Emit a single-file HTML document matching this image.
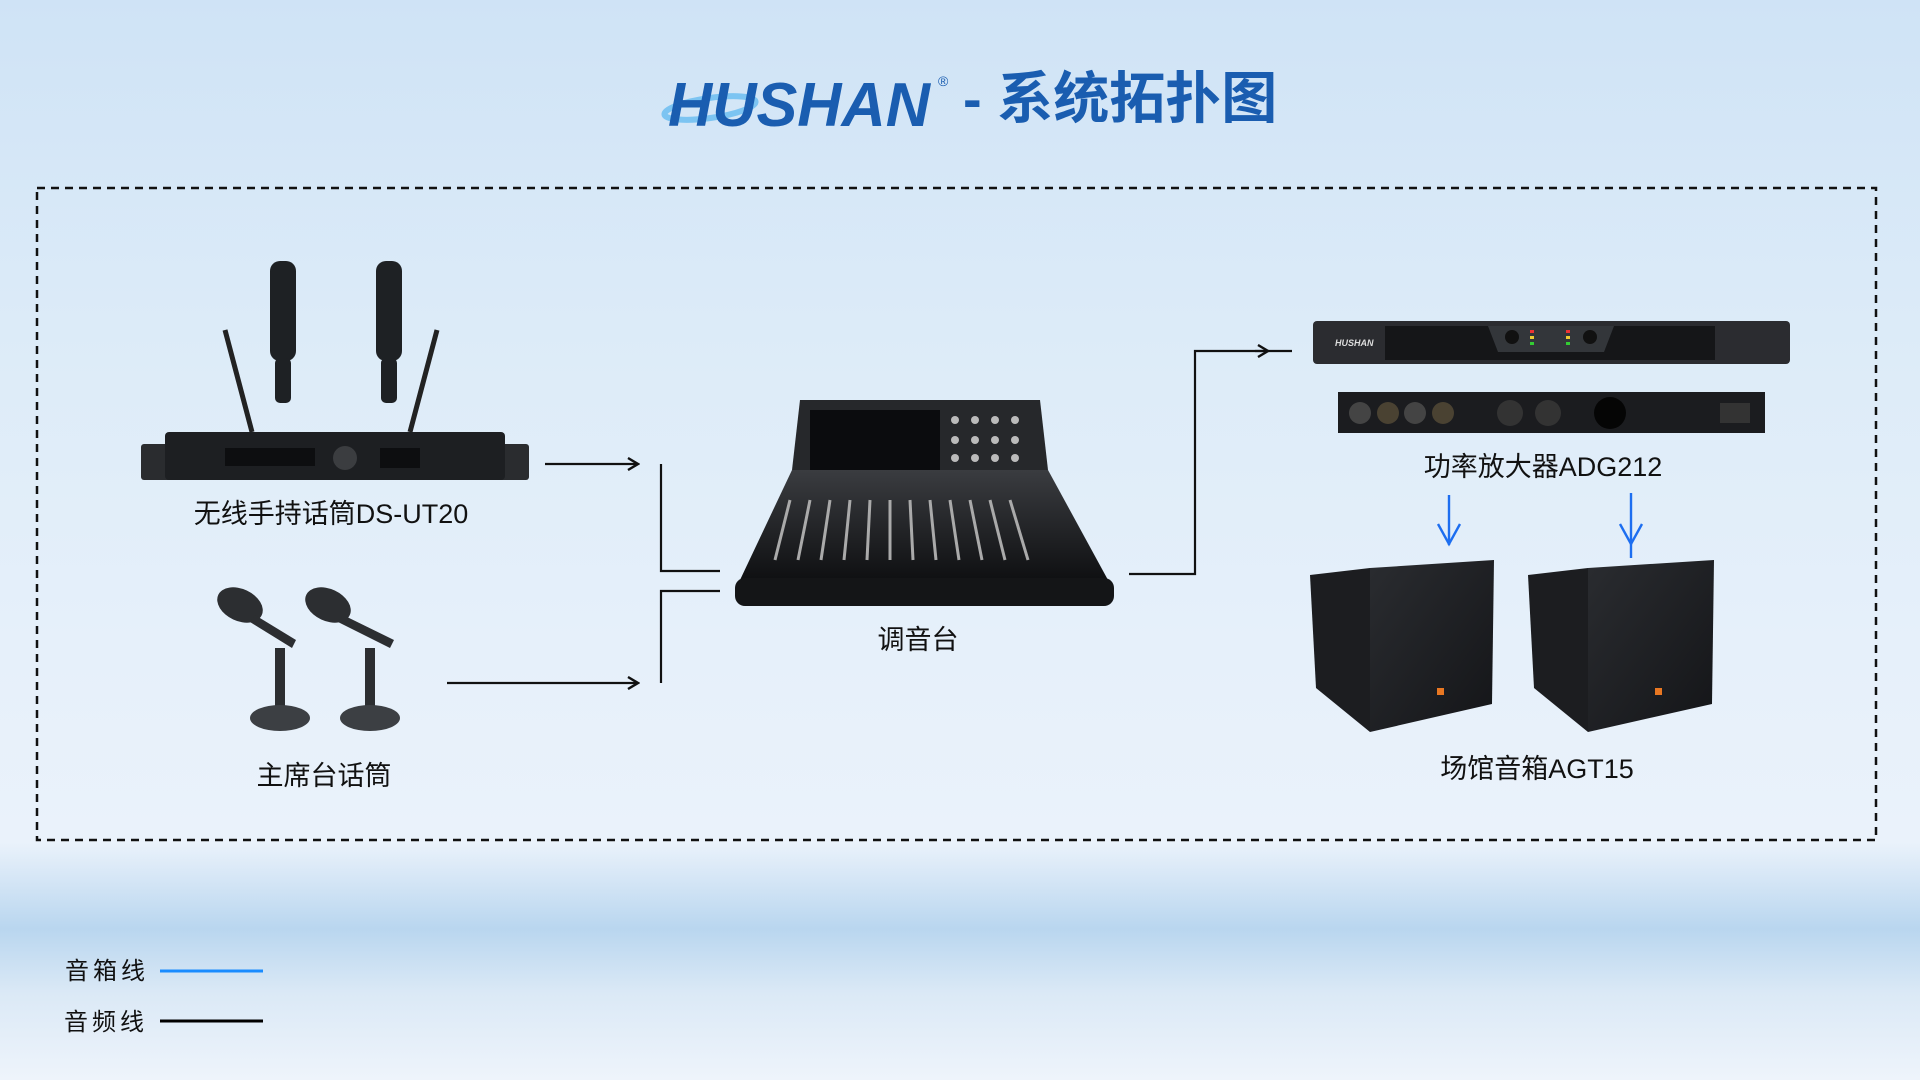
<!DOCTYPE html>
<html><head><meta charset="utf-8"><style>
html,body{margin:0;padding:0;width:1920px;height:1080px;overflow:hidden}
body{background:linear-gradient(180deg,#cfe3f6 0%,#dcebf8 30%,#e6f0fa 60%,#eaf2fb 78%,#b9d6ef 86%,#dbe9f6 92%,#eef4fb 100%)}
svg{position:absolute;left:0;top:0}
text{font-family:"Liberation Sans","Noto Sans CJK SC",sans-serif}
</style></head><body>
<svg width="1920" height="1080" viewBox="0 0 1920 1080" xmlns="http://www.w3.org/2000/svg">
<defs>
<marker id="ab" markerWidth="14" markerHeight="14" refX="12" refY="7" orient="auto" markerUnits="userSpaceOnUse"><path d="M2,1 L12,7 L2,13" fill="none" stroke="#111" stroke-width="2.4"/></marker>
<marker id="au" markerWidth="20" markerHeight="20" refX="10" refY="18" orient="auto-start-reverse" markerUnits="userSpaceOnUse"></marker>
<linearGradient id="spk" x1="0" y1="0" x2="1" y2="1"><stop offset="0" stop-color="#2a2c30"/><stop offset="1" stop-color="#141518"/></linearGradient>
<linearGradient id="mix" x1="0" y1="0" x2="0" y2="1"><stop offset="0" stop-color="#3a3c40"/><stop offset="1" stop-color="#0f1012"/></linearGradient>
</defs>
<!-- title -->
<ellipse cx="710" cy="108" rx="46" ry="10" fill="none" stroke="#7cc4f2" stroke-width="6" transform="rotate(-8 710 108)"/>
<text x="668" y="126" font-size="62" font-weight="bold" font-style="italic" fill="#1a5db0" textLength="262" lengthAdjust="spacingAndGlyphs">HUSHAN</text>
<text x="938" y="86" font-size="14" fill="#1a5db0">®</text>
<text x="963" y="118" font-size="56" font-weight="bold" fill="#1a5db0">- 系统拓扑图</text>
<!-- dashed border -->
<rect x="37" y="188" width="1839" height="652" fill="none" stroke="#111" stroke-width="2.5" stroke-dasharray="8,6"/>
<!-- wireless receiver -->
<line x1="225" y1="330" x2="252" y2="432" stroke="#222" stroke-width="5"/>
<line x1="437" y1="330" x2="410" y2="432" stroke="#222" stroke-width="5"/>
<rect x="270" y="261" width="26" height="100" rx="10" fill="#1e2124"/><rect x="275" y="358" width="16" height="45" rx="5" fill="#1e2124"/>
<rect x="376" y="261" width="26" height="100" rx="10" fill="#1e2124"/><rect x="381" y="358" width="16" height="45" rx="5" fill="#1e2124"/>
<rect x="141" y="444" width="388" height="36" rx="3" fill="#2a2c2f"/>
<rect x="165" y="432" width="340" height="48" rx="4" fill="#1d1f22"/>
<rect x="225" y="448" width="90" height="18" fill="#0d0e10"/><circle cx="345" cy="458" r="12" fill="#3b3d40"/>
<rect x="380" y="448" width="40" height="20" fill="#0d0e10"/>
<text x="331" y="523" font-size="27" fill="#111" text-anchor="middle">无线手持话筒DS-UT20</text>
<!-- gooseneck mics -->
<g fill="#2c2e31">
<ellipse cx="240" cy="605" rx="24" ry="16" transform="rotate(25 240 605)"/>
<path d="M255 615 L296 640 L292 648 L250 622Z"/>
<rect x="275" y="648" width="10" height="60"/>
<ellipse cx="280" cy="718" rx="30" ry="13" fill="#3c3f43"/>
<ellipse cx="328" cy="605" rx="24" ry="16" transform="rotate(25 328 605)"/>
<path d="M343 615 L394 640 L390 648 L338 622Z"/>
<rect x="365" y="648" width="10" height="60"/>
<ellipse cx="370" cy="718" rx="30" ry="13" fill="#3c3f43"/>
</g>
<text x="324" y="785" font-size="27" fill="#111" text-anchor="middle">主席台话筒</text>
<!-- mixer -->
<path d="M800 400 L1040 400 L1048 470 L792 470Z" fill="#26282b"/>
<rect x="810" y="410" width="130" height="60" fill="#0b0c0e"/>
<g fill="#bbb"><circle cx="955" cy="420" r="4"/><circle cx="975" cy="420" r="4"/><circle cx="995" cy="420" r="4"/><circle cx="1015" cy="420" r="4"/><circle cx="955" cy="440" r="4"/><circle cx="975" cy="440" r="4"/><circle cx="995" cy="440" r="4"/><circle cx="1015" cy="440" r="4"/><circle cx="955" cy="458" r="4"/><circle cx="975" cy="458" r="4"/><circle cx="995" cy="458" r="4"/><circle cx="1015" cy="458" r="4"/></g>
<path d="M792 470 L1048 470 L1108 580 L740 580Z" fill="url(#mix)"/>
<g stroke="#aaa" stroke-width="3">
<line x1="790" y1="500" x2="775" y2="560"/><line x1="810" y1="500" x2="798" y2="560"/><line x1="830" y1="500" x2="821" y2="560"/><line x1="850" y1="500" x2="844" y2="560"/><line x1="870" y1="500" x2="867" y2="560"/><line x1="890" y1="500" x2="890" y2="560"/><line x1="910" y1="500" x2="913" y2="560"/><line x1="930" y1="500" x2="936" y2="560"/><line x1="950" y1="500" x2="959" y2="560"/><line x1="970" y1="500" x2="982" y2="560"/><line x1="990" y1="500" x2="1005" y2="560"/><line x1="1010" y1="500" x2="1028" y2="560"/>
</g>
<rect x="735" y="578" width="379" height="28" rx="10" fill="#141517"/>
<text x="918" y="649" font-size="27" fill="#111" text-anchor="middle">调音台</text>
<!-- amp -->
<rect x="1313" y="321" width="477" height="43" rx="4" fill="#2b2c30"/>
<rect x="1385" y="326" width="330" height="34" fill="#151618"/>
<path d="M1488 326 L1614 326 L1604 352 L1498 352Z" fill="#33363a"/>
<circle cx="1512" cy="337" r="7" fill="#111"/><circle cx="1590" cy="337" r="7" fill="#111"/>
<rect x="1530" y="330" width="4" height="3" fill="#e33"/><rect x="1530" y="336" width="4" height="3" fill="#ec3"/><rect x="1530" y="342" width="4" height="3" fill="#3c3"/>
<rect x="1566" y="330" width="4" height="3" fill="#e33"/><rect x="1566" y="336" width="4" height="3" fill="#ec3"/><rect x="1566" y="342" width="4" height="3" fill="#3c3"/>
<text x="1335" y="346" font-size="9" font-style="italic" font-weight="bold" fill="#ddd">HUSHAN</text>
<rect x="1338" y="392" width="427" height="41" fill="#1b1c1f"/>
<circle cx="1360" cy="413" r="11" fill="#444"/><circle cx="1388" cy="413" r="11" fill="#4a4232"/><circle cx="1415" cy="413" r="11" fill="#444"/><circle cx="1443" cy="413" r="11" fill="#4a4232"/>
<circle cx="1510" cy="413" r="13" fill="#333"/><circle cx="1548" cy="413" r="13" fill="#333"/>
<circle cx="1610" cy="413" r="16" fill="#050505"/>
<rect x="1720" y="403" width="30" height="20" fill="#333"/>
<text x="1543" y="476" font-size="27" fill="#111" text-anchor="middle">功率放大器ADG212</text>
<!-- speakers -->
<path d="M1310 575 L1370 568 L1370 732 L1316 688Z" fill="#1c1d20"/>
<path d="M1370 568 L1494 560 L1492 704 L1370 732Z" fill="url(#spk)"/>
<rect x="1437" y="688" width="7" height="7" fill="#e87722"/>
<path d="M1528 575 L1588 568 L1588 732 L1534 688Z" fill="#1c1d20"/>
<path d="M1588 568 L1714 560 L1712 704 L1588 732Z" fill="url(#spk)"/>
<rect x="1655" y="688" width="7" height="7" fill="#e87722"/>
<text x="1537" y="778" font-size="27" fill="#111" text-anchor="middle">场馆音箱AGT15</text>
<!-- black connectors -->
<g fill="none" stroke="#111" stroke-width="2.2">
<path d="M545 464 L638 464" marker-end="url(#ab)"/>
<path d="M661 464 L661 571 L720 571"/>
<path d="M447 683 L638 683" marker-end="url(#ab)"/>
<path d="M661 683 L661 591 L720 591"/>
<path d="M1129 574 L1195 574 L1195 351 L1292 351"/>
<path d="M1255 351 L1268 351" marker-end="url(#ab)"/>
</g>
<!-- blue arrows -->
<g fill="none" stroke="#1d6ef0" stroke-width="2.4">
<line x1="1449" y1="495" x2="1449" y2="545"/><path d="M1438 524 L1449 544 L1460 524"/>
<line x1="1631" y1="493" x2="1631" y2="558"/><path d="M1620 524 L1631 544 L1642 524"/>
</g>
<!-- legend -->
<text x="65" y="979" font-size="24" fill="#111" letter-spacing="4">音箱线</text>
<line x1="160" y1="971" x2="263" y2="971" stroke="#1a8cff" stroke-width="3"/>
<text x="64" y="1030" font-size="24" fill="#111" letter-spacing="4">音频线</text>
<line x1="160" y1="1021" x2="263" y2="1021" stroke="#000" stroke-width="3"/>
</svg>
</body></html>
